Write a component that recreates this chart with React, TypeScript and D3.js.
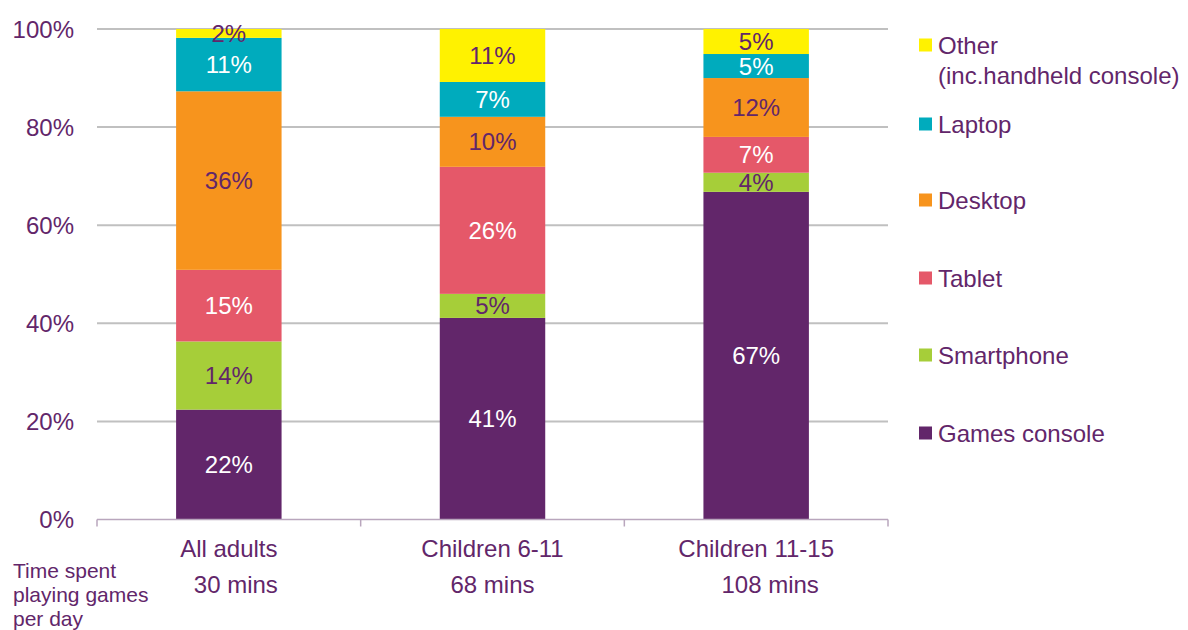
import React from "react";
import * as d3 from "d3";

const categories = ["All adults", "Children 6-11", "Children 11-15"];
const minutesLabels = ["30 mins", "68 mins", "108 mins"];
const seriesNames = ["Games console", "Smartphone", "Tablet", "Desktop", "Laptop", "Other"];
const gamesConsole = [22.4, 41.1, 66.8];
const smartphone = [13.9, 4.9, 3.9];
const tablet = [14.6, 25.9, 7.3];
const desktop = [36.4, 10.2, 12.0];
const laptop = [10.9, 7.1, 4.9];
const other = [1.8, 10.8, 5.1];
const yTicks = [0, 20, 40, 60, 80, 100];

const colors = ["#62266a", "#a6ce39", "#e55869", "#f7941d", "#00abbd", "#fff200"];
const labelColors = ["#ffffff", "#62266a", "#ffffff", "#62266a", "#ffffff", "#62266a"];
const TEXT = "#62266a";

export default function App() {
  const width = 1188, height = 630;
  const x0 = 97, x1 = 888, yBottom = 519.5, yTop = 29;
  const x = d3.scaleBand<string>().domain(categories).range([x0, x1]).paddingInner(0.6).paddingOuter(0.3);
  const y = d3.scaleLinear().domain([0, 100]).range([yBottom, yTop]);
  const values = [gamesConsole, smartphone, tablet, desktop, laptop, other];
  const rows = categories.map((c, i) => {
    const r: any = { cat: c };
    seriesNames.forEach((s, j) => (r[s] = values[j][i]));
    return r;
  });
  const stacked = d3.stack().keys(seriesNames)(rows);
  const band = (x1 - x0) / categories.length;
  const minsOffset = [7, 0, 14];
  const legendY = [45, 124, 200, 278, 355, 433];
  const legendOrder = [5, 4, 3, 2, 1, 0];
  const FS = 24;

  return (
    <svg width={width} height={height} style={{ position: "absolute", left: 0, top: 0 }} fontFamily="'Liberation Sans', Arial, sans-serif">
      {yTicks.filter((t) => t > 0).map((t) => (
        <line key={t} x1={x0} x2={x1} y1={y(t)} y2={y(t)} stroke="#c0c0c0" strokeWidth={2} />
      ))}
      {yTicks.map((t) => (
        <text key={"l" + t} x={74} y={y(t) + 8.5} textAnchor="end" fontSize={FS} fill={TEXT}>{t}%</text>
      ))}
      {stacked.map((s, si) => (
        <g key={s.key}>
          {s.map((d, i) => {
            const top = y(d[1]), bot = y(d[0]);
            return <rect key={i} x={x(categories[i])} y={top} width={x.bandwidth()} height={bot - top} fill={colors[si]} />;
          })}
        </g>
      ))}
      {stacked.map((s, si) => (
        <g key={"t" + s.key}>
          {s.map((d, i) => {
            const top = y(d[1]), bot = y(d[0]);
            return (
              <text key={i} x={(x(categories[i]) as number) + x.bandwidth() / 2} y={(top + bot) / 2 + 8.5} textAnchor="middle" fontSize={FS} fill={labelColors[si]}>
                {Math.round(d[1] - d[0])}%
              </text>
            );
          })}
        </g>
      ))}
      <line x1={x0} x2={x1} y1={yBottom} y2={yBottom} stroke="#b9a6bd" strokeWidth={1.5} />
      {d3.range(categories.length + 1).map((i) => (
        <line key={"tk" + i} x1={x0 + i * band} x2={x0 + i * band} y1={yBottom} y2={yBottom + 7} stroke="#b9a6bd" strokeWidth={1.5} />
      ))}
      {categories.map((c, i) => (
        <g key={"c" + c}>
          <text x={(x(c) as number) + x.bandwidth() / 2} y={557} textAnchor="middle" fontSize={FS} fill={TEXT}>{c}</text>
          <text x={(x(c) as number) + x.bandwidth() / 2 + minsOffset[i]} y={593} textAnchor="middle" fontSize={FS} fill={TEXT}>{minutesLabels[i]}</text>
        </g>
      ))}
      <text x={13} y={578} fontSize={21} fill={TEXT}>Time spent</text>
      <text x={13} y={602} fontSize={21} fill={TEXT}>playing games</text>
      <text x={13} y={626} fontSize={21} fill={TEXT}>per day</text>
      {legendOrder.map((si, k) => (
        <g key={"lg" + si}>
          <rect x={919} y={legendY[k] - 6.5} width={13} height={13} fill={colors[si]} />
          <text x={938} y={legendY[k] + 8.5} fontSize={FS} fill={TEXT}>{seriesNames[si]}</text>
          {seriesNames[si] === "Other" && (
            <text x={938} y={legendY[k] + 38.5} fontSize={FS} fill={TEXT}>(inc.handheld console)</text>
          )}
        </g>
      ))}
    </svg>
  );
}
